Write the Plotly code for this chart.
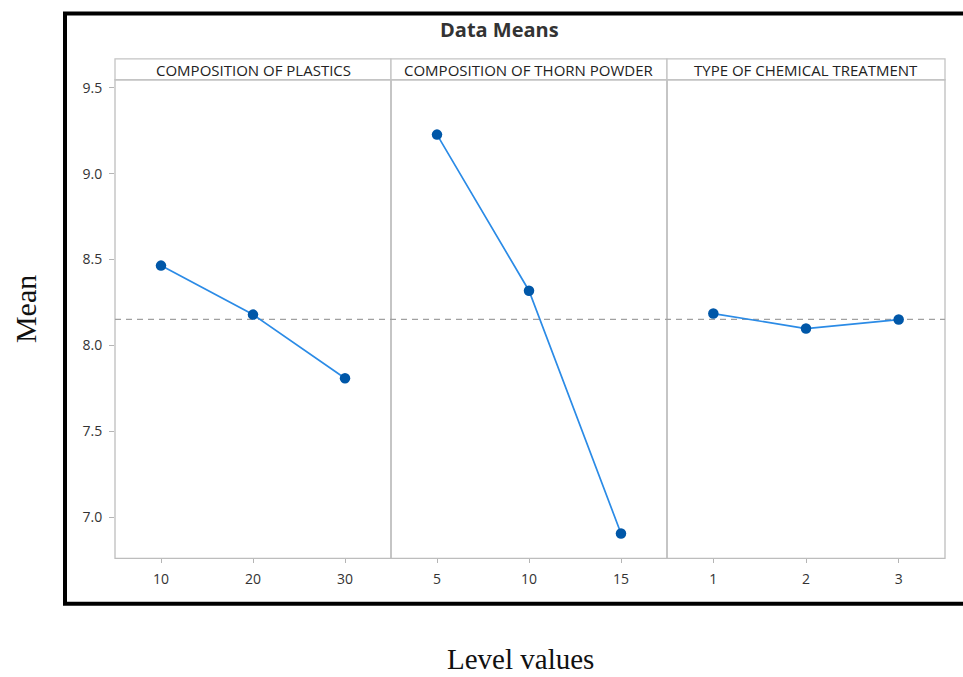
import plotly.graph_objects as go

# ---- data ----
factors = ["COMPOSITION OF PLASTICS", "COMPOSITION OF THORN POWDER", "TYPE OF CHEMICAL TREATMENT"]
levels_plastics = ["10", "20", "30"]
levels_thorn = ["5", "10", "15"]
levels_chem = ["1", "2", "3"]
means_plastics = [8.465, 8.18, 7.81]
means_thorn = [9.227, 8.319, 6.907]
means_chem = [8.186, 8.099, 8.151]
grand_mean = 8.152
y_ticks = [7.0, 7.5, 8.0, 8.5, 9.0, 9.5]

W, H = 963, 677


def px(x):
    return x / W


def py(y):
    return 1 - y / H


panel_px = [(115, 391), (391, 667), (667, 945)]
plot_top, plot_bot = 78, 558
head_top = 57

levels = [levels_plastics, levels_thorn, levels_chem]
means = [means_plastics, means_thorn, means_chem]

fig = go.Figure()
for i, (lv, mv) in enumerate(zip(levels, means)):
    ax = "x" if i == 0 else f"x{i+1}"
    fig.add_trace(go.Scatter(
        x=lv, y=mv, xaxis=ax, yaxis="y", mode="lines+markers",
        line=dict(color="#2b8be6", width=1.7),
        marker=dict(color="#0057a8", size=10.5),
        showlegend=False, hoverinfo="x+y",
    ))

tick_font = dict(family="Open Sans", size=14, color="#333333")
axis_common = dict(
    type="category", range=[-0.5, 2.5], showgrid=False, zeroline=False,
    showline=False, ticks="outside", ticklen=4, tickcolor="#b5b5b5",
    tickfont=tick_font, ticklabelstandoff=4, anchor="y", fixedrange=True,
)
layout = dict(
    width=W, height=H, margin=dict(l=0, r=0, t=0, b=0),
    paper_bgcolor="white", plot_bgcolor="white",
    yaxis=dict(
        domain=[py(plot_bot), py(plot_top)], range=[6.762, 9.546],
        tickvals=y_ticks, ticktext=[f"{v:.1f}" for v in y_ticks],
        showgrid=False, zeroline=False, showline=False,
        ticks="outside", ticklen=5, tickcolor="#b5b5b5",
        tickfont=tick_font, ticklabelstandoff=4, anchor="x", fixedrange=True,
    ),
)
for i, (a, b) in enumerate(panel_px):
    key = "xaxis" if i == 0 else f"xaxis{i+1}"
    layout[key] = dict(axis_common, domain=[px(a), px(b)])
fig.update_layout(**layout)

shapes = []
annotations = []
for i, (a, b) in enumerate(panel_px):
    # panel box
    shapes.append(dict(type="rect", xref="paper", yref="paper",
                       x0=px(a), x1=px(b), y0=py(plot_bot), y1=py(plot_top),
                       line=dict(color="#bdbdbd", width=1.3), layer="below"))
    # header box
    shapes.append(dict(type="rect", xref="paper", yref="paper",
                       x0=px(a), x1=px(b), y0=py(plot_top), y1=py(head_top),
                       line=dict(color="#c4c4c4", width=1.3), fillcolor="white"))
    annotations.append(dict(text=factors[i], xref="paper", yref="paper",
                            x=px((a + b) / 2), y=py((head_top + plot_top) / 2 + 0.5),
                            showarrow=False, xanchor="center", yanchor="middle",
                            font=dict(family="Open Sans", size=15, color="#222222")))

# grand mean reference line
shapes.append(dict(type="line", xref="paper", yref="y",
                   x0=px(panel_px[0][0]), x1=px(panel_px[-1][1]),
                   y0=grand_mean, y1=grand_mean,
                   line=dict(color="#a0a0a0", width=1.3, dash="6px,5px"), layer="below"))

# thick outer frame (right edge outside the picture)
shapes.append(dict(type="rect", xref="paper", yref="paper",
                   x0=px(65), x1=px(990), y0=py(603.5), y1=py(11.5),
                   line=dict(color="black", width=4)))

annotations += [
    dict(text="<b>Data Means</b>", xref="paper", yref="paper", x=px(499), y=py(28),
         showarrow=False, xanchor="center", yanchor="middle",
         font=dict(family="Open Sans", size=20, color="#333333")),
    dict(text="Mean", xref="paper", yref="paper", x=px(25), y=py(308),
         showarrow=False, xanchor="center", yanchor="middle", textangle=-90,
         font=dict(family="Liberation Serif", size=30, color="#111111")),
    dict(text="Level values", xref="paper", yref="paper", x=px(520), y=py(659),
         showarrow=False, xanchor="center", yanchor="middle",
         font=dict(family="Liberation Serif", size=29, color="#111111")),
]
fig.update_layout(shapes=shapes, annotations=annotations)

fig.write_html("out.html", config={"displayModeBar": False},
               post_script="document.body.style.margin='0';document.body.style.overflow='hidden';")
